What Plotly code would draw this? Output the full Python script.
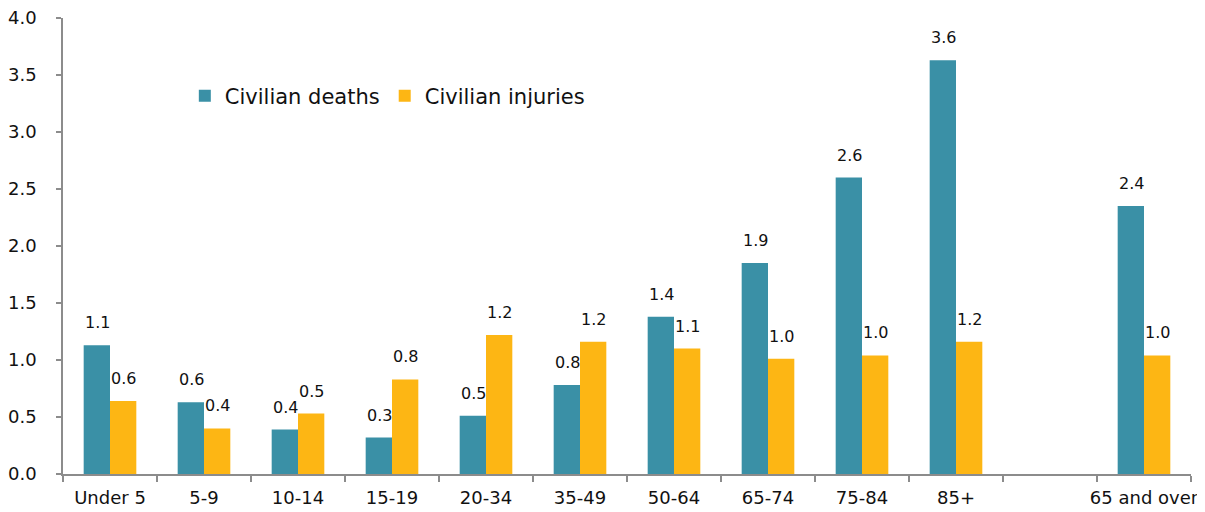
import plotly.graph_objects as go

# age groups (blank slot separates the summary group)
age_groups = ["Under 5", "5-9", "10-14", "15-19", "20-34", "35-49",
              "50-64", "65-74", "75-84", "85+", " ", "65 and over"]
civilian_deaths = [1.13, 0.63, 0.39, 0.32, 0.51, 0.78,
                   1.38, 1.85, 2.60, 3.63, None, 2.35]
civilian_injuries = [0.64, 0.40, 0.53, 0.83, 1.22, 1.16,
                     1.10, 1.01, 1.04, 1.16, None, 1.04]
y_ticks = [0, 0.5, 1, 1.5, 2, 2.5, 3, 3.5, 4]

TEAL = "#3A90A6"
GOLD = "#FDB614"
AXIS = "#8C8C8C"
FONT = "DejaVu Sans, Arial, sans-serif"

fig = go.Figure()

fig.add_trace(go.Bar(
    x=age_groups, y=civilian_deaths, name="Civilian deaths",
    marker=dict(color=TEAL, line=dict(width=0)),
))
fig.add_trace(go.Bar(
    x=age_groups, y=civilian_injuries, name="Civilian injuries",
    marker=dict(color=GOLD, line=dict(width=0)),
))

# value labels sitting a little above each bar
annotations = []
for series, shift in ((civilian_deaths, -13), (civilian_injuries, 13)):
    for cat, val in zip(age_groups, series):
        if val is None:
            continue
        annotations.append(dict(
            x=cat, y=val, xref="x", yref="y", text=f"{val:.1f}",
            showarrow=False, yanchor="bottom", xshift=shift, yshift=11,
            font=dict(size=16, color="#111111"),
        ))

# page body adds an 8px offset, so the figure is sized to fill the rest
fig.update_layout(
    width=1197, height=504,
    paper_bgcolor="white", plot_bgcolor="white",
    font=dict(family=FONT, size=17, color="#111111"),
    margin=dict(l=55, r=14, t=10, b=38, autoexpand=False),
    barmode="group", bargap=0.44, bargroupgap=0,
    annotations=annotations,
    legend=dict(
        orientation="h", x=0.108, y=0.829, xanchor="left", yanchor="middle",
        font=dict(size=21), bgcolor="rgba(0,0,0,0)",
        itemwidth=30, tracegroupgap=0,
    ),
    xaxis=dict(
        type="category", tickson="boundaries", tickangle=0, automargin=False,
        ticks="outside", ticklen=6, tickcolor=AXIS, tickwidth=1.5,
        showline=True, linecolor=AXIS, linewidth=1.5,
        showgrid=False, tickfont=dict(size=18), ticklabelstandoff=7,
        ticklabeloverflow="allow",
    ),
    yaxis=dict(
        range=[0, 4], tickmode="array", tickvals=y_ticks,
        tickformat=".1f", automargin=False,
        ticks="outside", ticklen=5, tickcolor=AXIS, tickwidth=1.5,
        showline=True, linecolor=AXIS, linewidth=1.5,
        showgrid=False, zeroline=False, tickfont=dict(size=18),
        ticklabelstandoff=16, ticklabeloverflow="allow",
    ),
)

fig.write_html("out.html")
